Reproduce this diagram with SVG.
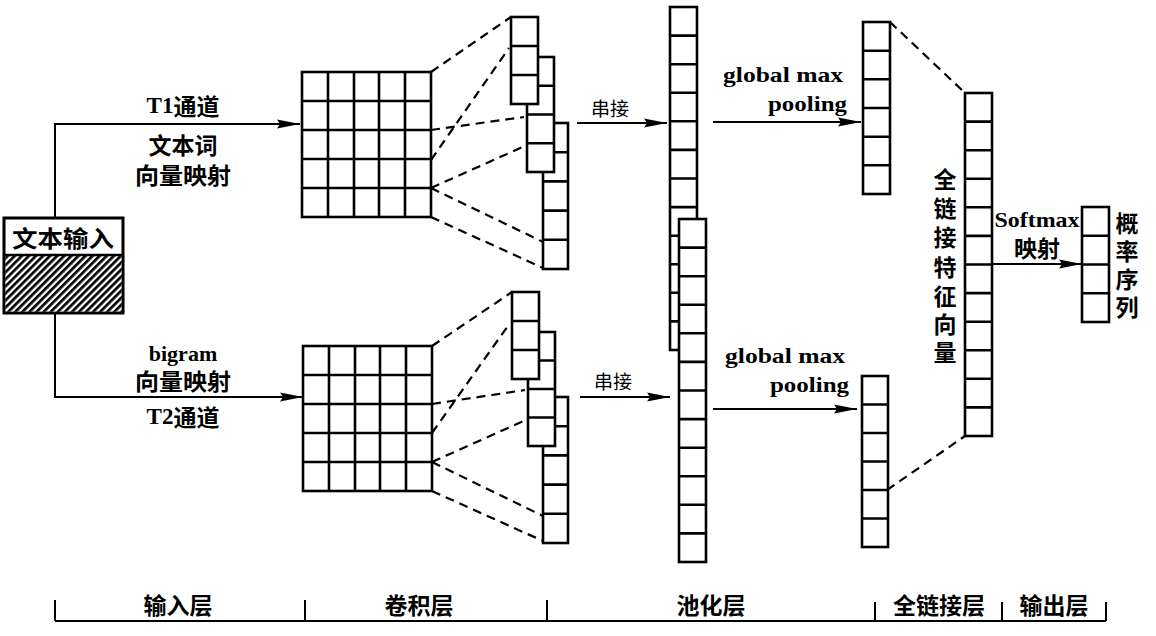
<svg xmlns="http://www.w3.org/2000/svg" width="1156" height="636" viewBox="0 0 1156 636">
<style>
.ln{fill:none;stroke:#000;stroke-width:2}
.arr{fill:none;stroke:#000;stroke-width:2;marker-end:url(#ah)}
.dash{fill:none;stroke:#000;stroke-width:2.2;stroke-dasharray:9 6}
.cell{fill:#fff;stroke:#000;stroke-width:2.6}
.gl{fill:none;stroke:#000;stroke-width:2.6}
.cjk{font-family:"Noto Sans CJK SC","Noto Sans",sans-serif;font-size:23px;font-weight:bold;fill:#000;text-anchor:middle;dominant-baseline:central}
.cjks{font-family:"Noto Sans CJK SC","Noto Sans",sans-serif;font-size:19px;fill:#000;text-anchor:middle;dominant-baseline:central}
.lat{font-family:"Liberation Serif","Times New Roman",serif;font-size:22px;font-weight:bold;fill:#000}
.mix{font-family:"Liberation Serif","Noto Sans CJK SC",serif;font-size:23px;font-weight:bold;fill:#000;text-anchor:middle;dominant-baseline:central}
</style>
<defs>
<marker id="ah" markerUnits="userSpaceOnUse" markerWidth="23" markerHeight="10" refX="23" refY="5" orient="auto">
<path d="M0,0.5 L23,5 L0,9.5 L3,5 Z" fill="#000"/>
</marker>
<pattern id="hatch" patternUnits="userSpaceOnUse" width="5" height="5" patternTransform="rotate(45)">
<rect x="0" y="0" width="5" height="5" fill="#fff"/>
<rect x="0" y="0" width="2.7" height="5" fill="#000"/>
</pattern>
</defs>
<rect width="1156" height="636" fill="#fff"/>

<g id="connectors">
<path class="arr" d="M55,218 V124 H300"/>
<path class="arr" d="M55,313 V397 H303"/>
<path class="arr" d="M577,123 H667"/>
<path class="arr" d="M580,397 H670"/>
<path class="arr" d="M713,122 H861"/>
<path class="arr" d="M713,409 H857"/>
<path class="arr" d="M992,264 H1082"/>
<path class="dash" d="M431,72 L511,17"/>
<path class="dash" d="M431,160 L509,48"/>
<path class="dash" d="M431,130 L524,117"/>
<path class="dash" d="M431,188 L527,145"/>
<path class="dash" d="M431,188 L543,242"/>
<path class="dash" d="M431,217 L543,268"/>
<path class="dash" d="M432,346 L512,292"/>
<path class="dash" d="M432,433 L510,323"/>
<path class="dash" d="M432,404 L525,390"/>
<path class="dash" d="M432,462 L528,419"/>
<path class="dash" d="M432,462 L543,516"/>
<path class="dash" d="M432,491 L543,541"/>
<path class="dash" d="M890,22 L965,93"/>
<path class="dash" d="M887,490 L965,436"/>
</g>

<g id="input">
<rect x="4" y="218" width="119" height="95" fill="#fff" stroke="#000" stroke-width="2.6"/>
<rect x="5.3" y="255" width="116.4" height="56.7" fill="url(#hatch)"/>
<line class="gl" x1="4" y1="255" x2="123" y2="255"/>
<rect x="4" y="218" width="119" height="95" fill="none" stroke="#000" stroke-width="2.6"/>
<text class="cjk" x="63" y="237" font-size="23" textLength="102" lengthAdjust="spacingAndGlyphs">文本输入</text>
</g>

<g id="labels-left">
<text class="mix" x="183" y="105"><tspan>T1</tspan><tspan font-family="Noto Sans CJK SC,sans-serif">通道</tspan></text>
<text class="cjk" x="183" y="144" font-size="22">文本词</text>
<text class="cjk" x="183" y="174" font-size="22" textLength="96" lengthAdjust="spacingAndGlyphs">向量映射</text>
<text class="lat" x="183" y="361" text-anchor="middle">bigram</text>
<text class="cjk" x="183" y="380" font-size="22" textLength="96" lengthAdjust="spacingAndGlyphs">向量映射</text>
<text class="mix" x="183" y="416"><tspan>T2</tspan><tspan font-family="Noto Sans CJK SC,sans-serif">通道</tspan></text>
</g>

<g id="grid1">
<rect class="cell" x="302" y="72" width="129" height="145"/>
<path class="gl" d="M328,72 V217 M354,72 V217 M379,72 V217 M405,72 V217 M302,101 H431 M302,130 H431 M302,159 H431 M302,188 H431"/>
</g>
<g id="grid2">
<rect class="cell" x="303" y="346" width="129" height="145"/>
<path class="gl" d="M329,346 V491 M355,346 V491 M380,346 V491 M406,346 V491 M303,375 H432 M303,404 H432 M303,433 H432 M303,462 H432"/>
</g>

<g id="conv1">
<rect class="cell" x="543" y="123" width="25" height="146"/>
<path class="gl" d="M543,152.2 H568 M543,181.4 H568 M543,210.6 H568 M543,239.8 H568"/>
<rect class="cell" x="527" y="57" width="27" height="115"/>
<path class="gl" d="M527,85.75 H554 M527,114.5 H554 M527,143.25 H554"/>
<rect class="cell" x="511" y="17" width="27" height="87"/>
<path class="gl" d="M511,46 H538 M511,75 H538"/>
</g>
<g id="conv2">
<rect class="cell" x="543" y="397" width="25" height="146"/>
<path class="gl" d="M543,426.2 H568 M543,455.4 H568 M543,484.6 H568 M543,513.8 H568"/>
<rect class="cell" x="528" y="332" width="27" height="114"/>
<path class="gl" d="M528,360.5 H555 M528,389 H555 M528,417.5 H555"/>
<rect class="cell" x="512" y="292" width="27" height="87"/>
<path class="gl" d="M512,321 H539 M512,350 H539"/>
</g>

<g id="concat-labels">
<text class="cjks" x="610" y="107">串接</text>
<text class="cjks" x="613" y="380">串接</text>
</g>

<g id="pool1">
<rect class="cell" x="670" y="7" width="27" height="343"/>
<path class="gl" d="M670,35.6 H697 M670,64.2 H697 M670,92.8 H697 M670,121.3 H697 M670,149.9 H697 M670,178.5 H697 M670,207.1 H697 M670,235.7 H697 M670,264.3 H697 M670,292.8 H697 M670,321.4 H697"/>
</g>
<g id="pool2">
<rect class="cell" x="679" y="219" width="27" height="343"/>
<path class="gl" d="M679,247.6 H706 M679,276.2 H706 M679,304.8 H706 M679,333.3 H706 M679,361.9 H706 M679,390.5 H706 M679,419.1 H706 M679,447.7 H706 M679,476.3 H706 M679,504.8 H706 M679,533.4 H706"/>
</g>

<g id="gmp-labels">
<text class="lat" x="843" y="82" text-anchor="end" textLength="120" lengthAdjust="spacingAndGlyphs" font-size="23">global max</text>
<text class="lat" x="847" y="111" text-anchor="end" textLength="79" lengthAdjust="spacingAndGlyphs" font-size="23">pooling</text>
<text class="lat" x="845" y="363" text-anchor="end" textLength="120" lengthAdjust="spacingAndGlyphs" font-size="23">global max</text>
<text class="lat" x="849" y="392" text-anchor="end" textLength="79" lengthAdjust="spacingAndGlyphs" font-size="23">pooling</text>
</g>

<g id="pooled1">
<rect class="cell" x="863" y="22" width="27" height="172"/>
<path class="gl" d="M863,50.7 H890 M863,79.3 H890 M863,108 H890 M863,136.7 H890 M863,165.3 H890"/>
</g>
<g id="pooled2">
<rect class="cell" x="862" y="376" width="26" height="171"/>
<path class="gl" d="M862,404.5 H888 M862,433 H888 M862,461.5 H888 M862,490 H888 M862,518.5 H888"/>
</g>

<g id="fc">
<rect class="cell" x="965" y="93" width="27" height="343"/>
<path class="gl" d="M965,121.6 H992 M965,150.2 H992 M965,178.8 H992 M965,207.3 H992 M965,235.9 H992 M965,264.5 H992 M965,293.1 H992 M965,321.7 H992 M965,350.3 H992 M965,378.8 H992 M965,407.4 H992"/>
<text class="cjk" x="945" font-size="24"><tspan x="945" y="178">全</tspan><tspan x="945" y="207">链</tspan><tspan x="945" y="236">接</tspan><tspan x="945" y="266">特</tspan><tspan x="945" y="295">征</tspan><tspan x="945" y="323">向</tspan><tspan x="945" y="351">量</tspan></text>
</g>

<g id="softmax-label">
<text class="lat" x="1037" y="227" text-anchor="middle" textLength="85" lengthAdjust="spacingAndGlyphs">Softmax</text>
<text class="cjk" x="1037" y="247" font-size="22">映射</text>
</g>

<g id="output">
<rect class="cell" x="1082" y="207" width="27" height="115"/>
<path class="gl" d="M1082,235.75 H1109 M1082,264.5 H1109 M1082,293.25 H1109"/>
<text class="cjk" x="1127" font-size="22"><tspan x="1127" y="222">概</tspan><tspan x="1127" y="250">率</tspan><tspan x="1127" y="278">序</tspan><tspan x="1127" y="306">列</tspan></text>
</g>

<g id="axis">
<path class="ln" d="M55,621 H1106 M55,600 V621 M305,600 V621 M547,600 V621 M875,602 V621 M1002,602 V621 M1106,602 V621"/>
<text class="cjk" x="178" y="604" font-size="24">输入层</text>
<text class="cjk" x="419" y="604" font-size="24">卷积层</text>
<text class="cjk" x="711" y="604" font-size="24">池化层</text>
<text class="cjk" x="939" y="604" font-size="24">全链接层</text>
<text class="cjk" x="1054" y="604" font-size="24">输出层</text>
</g>
</svg>
